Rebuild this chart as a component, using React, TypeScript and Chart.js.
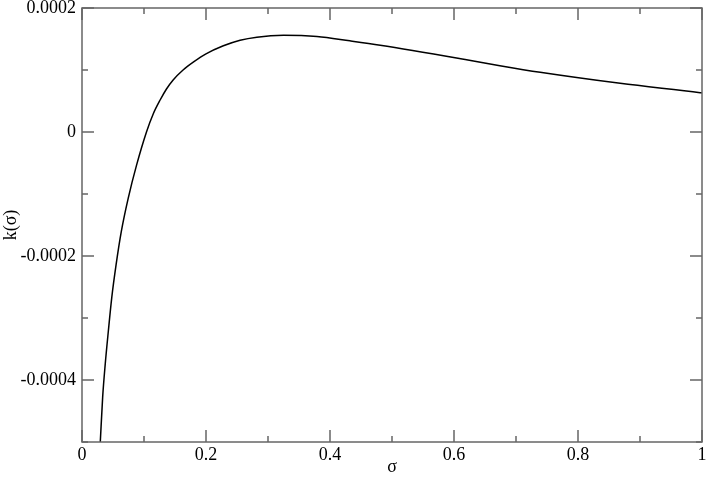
import React, { useEffect, useRef } from "react";
import { Chart, registerables } from "chart.js";

Chart.register(...registerables);

const sigmaValues = [
  0.0295, 0.0333, 0.0375, 0.0425, 0.048, 0.055, 0.0635, 0.0745, 0.088, 0.104,
  0.115, 0.126, 0.136, 0.147, 0.163, 0.18, 0.2, 0.228, 0.255, 0.282, 0.325,
  0.379, 0.432, 0.481, 0.618, 0.674, 0.739, 0.868, 0.997, 1.0,
];
const kValues = [
  -0.0005, -0.000428, -0.000374, -0.000321, -0.000267, -0.000214, -0.00016,
  -0.000107, -0.0000535, 0, 0.0000295, 0.0000516, 0.000069, 0.0000839, 0.0001,
  0.000113, 0.000126, 0.000139, 0.000148, 0.000153, 0.000156, 0.000154,
  0.000147, 0.00014, 0.000117, 0.000107, 0.0000963, 0.0000785, 0.0000634,
  0.000063,
];

const xTickValues = [0, 0.2, 0.4, 0.6, 0.8, 1];
const xTickLabels = ["0", "0.2", "0.4", "0.6", "0.8", "1"];
const xMinorValues = [0.1, 0.3, 0.5, 0.7, 0.9];
const yTickValues = [0.0002, 0, -0.0002, -0.0004];
const yTickLabels = ["0.0002", "0", "-0.0002", "-0.0004"];
const yMinorValues = [0.0001, -0.0001, -0.0003, -0.0005];

const FONT = "'Liberation Serif', 'Times New Roman', serif";
const FONT_SIZE = 18;

const framePlugin = {
  id: "frameTicks",
  afterDatasetsDraw(chart: any) {
    const { ctx, chartArea: a, scales } = chart;
    const x = scales.x;
    const y = scales.y;
    ctx.save();
    ctx.strokeStyle = "#666666";
    ctx.lineWidth = 1.5;
    ctx.beginPath();
    const major = 12;
    const minor = 6;
    xTickValues.forEach((v) => {
      const p = x.getPixelForValue(v);
      ctx.moveTo(p, a.bottom);
      ctx.lineTo(p, a.bottom - major);
      ctx.moveTo(p, a.top);
      ctx.lineTo(p, a.top + major);
    });
    xMinorValues.forEach((v) => {
      const p = x.getPixelForValue(v);
      ctx.moveTo(p, a.bottom);
      ctx.lineTo(p, a.bottom - minor);
      ctx.moveTo(p, a.top);
      ctx.lineTo(p, a.top + minor);
    });
    yTickValues.forEach((v) => {
      const p = y.getPixelForValue(v);
      ctx.moveTo(a.left, p);
      ctx.lineTo(a.left + major, p);
      ctx.moveTo(a.right, p);
      ctx.lineTo(a.right - major, p);
    });
    yMinorValues.forEach((v) => {
      const p = y.getPixelForValue(v);
      ctx.moveTo(a.left, p);
      ctx.lineTo(a.left + minor, p);
      ctx.moveTo(a.right, p);
      ctx.lineTo(a.right - minor, p);
    });
    ctx.stroke();
    ctx.strokeRect(a.left, a.top, a.right - a.left, a.bottom - a.top);
    ctx.restore();
  },
};

export default function App() {
  const canvasRef = useRef<HTMLCanvasElement | null>(null);

  useEffect(() => {
    document.body.style.margin = "0";
    const canvas = canvasRef.current;
    if (!canvas) return;
    const data = sigmaValues.map((s, i) => ({ x: s, y: kValues[i] }));
    const chart = new Chart(canvas, {
      type: "scatter",
      data: {
        datasets: [
          {
            data,
            showLine: true,
            borderColor: "#000000",
            borderWidth: 1.5,
            pointRadius: 0,
            cubicInterpolationMode: "monotone",
            fill: false,
          },
        ],
      },
      options: {
        responsive: false,
        animation: false,
        devicePixelRatio: 1,
        layout: { padding: { left: 0, right: 6, top: 8, bottom: 0 } },
        plugins: {
          legend: { display: false },
          tooltip: { enabled: false },
        },
        scales: {
          x: {
            type: "linear",
            min: 0,
            max: 1,
            grid: { display: false, drawTicks: false },
            border: { display: false },
            afterBuildTicks: (s: any) => {
              s.ticks = xTickValues.map((v) => ({ value: v }));
            },
            afterFit: (s: any) => {
              s.height = 36;
              s.paddingLeft = 0;
              s.paddingRight = 0;
            },
            ticks: {
              color: "#000000",
              font: { family: FONT, size: FONT_SIZE },
              padding: 2,
              maxRotation: 0,
              autoSkip: false,
              callback: (v: any) => {
                const i = xTickValues.indexOf(Number(v));
                return i >= 0 ? xTickLabels[i] : "";
              },
            },
            title: {
              display: true,
              text: "σ",
              color: "#000000",
              font: { family: FONT, size: FONT_SIZE },
              padding: { top: 1, bottom: 0 },
            },
          },
          y: {
            type: "linear",
            min: -0.0005,
            max: 0.0002,
            grid: { display: false, drawTicks: false },
            border: { display: false },
            afterBuildTicks: (s: any) => {
              s.ticks = yTickValues.map((v) => ({ value: v }));
            },
            afterFit: (s: any) => {
              s.width = 82;
              s.paddingTop = 0;
              s.paddingBottom = 0;
            },
            ticks: {
              color: "#000000",
              font: { family: FONT, size: FONT_SIZE },
              padding: 6,
              autoSkip: false,
              callback: (v: any) => {
                const i = yTickValues.findIndex((t) => Math.abs(t - Number(v)) < 1e-12);
                return i >= 0 ? yTickLabels[i] : "";
              },
            },
            title: {
              display: true,
              text: "k(σ)",
              color: "#000000",
              font: { family: FONT, size: FONT_SIZE },
              padding: { top: 0, bottom: 0 },
            },
          },
        },
      },
      plugins: [framePlugin],
    } as any);
    return () => chart.destroy();
  }, []);

  return (
    <div style={{ width: 708, height: 478 }}>
      <canvas ref={canvasRef} width={708} height={478} style={{ display: "block" }} />
    </div>
  );
}
